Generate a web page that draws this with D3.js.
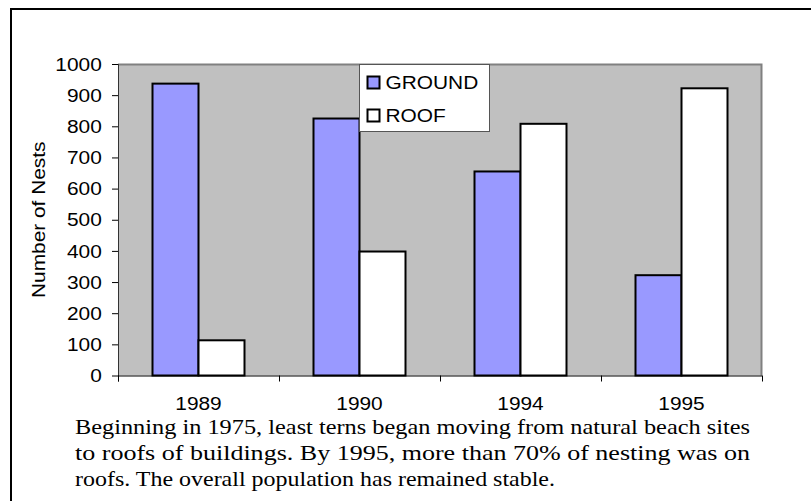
<!DOCTYPE html>
<html>
<head>
<meta charset="utf-8">
<script src="https://cdn.jsdelivr.net/npm/d3@7"></script>
<style>
  body { margin: 0; background: #fff; }
  svg { display: block; }
  .sans { font-family: "Liberation Sans", Arial, sans-serif; }
  .serif { font-family: "Liberation Serif", "Times New Roman", serif; }
</style>
</head>
<body>
<script>
// data
var years = ["1989", "1990", "1994", "1995"];
var series = ["GROUND", "ROOF"];
var ground = [937, 825, 655, 322];
var roof = [113, 398, 808, 922];
var yTicks = [0, 100, 200, 300, 400, 500, 600, 700, 800, 900, 1000];
var yTitle = "Number of Nests";
var caption = [
  "Beginning in 1975, least terns began moving from natural beach sites",
  "to roofs of buildings.  By 1995, more than 70% of nesting was on",
  "roofs. The overall population has remained stable."
];

var W = 811, H = 501;
var plot = {left: 118, right: 762, top: 64, bottom: 375.5};
var colors = {GROUND: "#9999ff", ROOF: "#ffffff"};
var stretch = "scale(1.16,1)";

var svg = d3.select("body").append("svg")
    .attr("width", W)
    .attr("height", H);

// outer frame (right and bottom run off the picture)
svg.append("rect")
    .attr("x", 11).attr("y", 9)
    .attr("width", 900).attr("height", 600)
    .attr("fill", "none")
    .attr("stroke", "#000")
    .attr("stroke-width", 2);

// scales
var x = d3.scaleBand().domain(years).range([plot.left, plot.right]).padding(0);
var xs = d3.scaleBand().domain(series).range([0, x.bandwidth()])
    .paddingInner(0).paddingOuter(0.75);
var y = d3.scaleLinear().domain([0, 1000]).range([plot.bottom, plot.top]);

// plot area
svg.append("rect")
    .attr("x", plot.left).attr("y", plot.top)
    .attr("width", plot.right - plot.left)
    .attr("height", plot.bottom - plot.top)
    .attr("fill", "#c0c0c0");
svg.append("path")
    .attr("d", "M" + plot.left + "," + (plot.top + 0.5) + "H" + (plot.right - 0.5) + "V" + plot.bottom)
    .attr("fill", "none")
    .attr("stroke", "#808080")
    .attr("stroke-width", 2);

// bars
var rows = years.map(function(yr, i) {
  return {year: yr, values: [{key: "GROUND", v: ground[i]}, {key: "ROOF", v: roof[i]}]};
});

svg.append("g").selectAll("g")
    .data(rows)
  .enter().append("g")
    .attr("transform", function(d) { return "translate(" + x(d.year) + ",0)"; })
  .selectAll("rect")
    .data(function(d) { return d.values; })
  .enter().append("rect")
    .attr("x", function(d) { return xs(d.key); })
    .attr("y", function(d) { return y(d.v); })
    .attr("width", xs.bandwidth())
    .attr("height", function(d) { return y(0) - y(d.v); })
    .attr("fill", function(d) { return colors[d.key]; })
    .attr("stroke", "#000")
    .attr("stroke-width", 2);

// y axis
var yAxis = svg.append("g")
    .attr("transform", "translate(" + plot.left + ",0)")
    .call(d3.axisLeft(y).tickValues(yTicks).tickFormat(d3.format("d"))
      .tickSize(6).tickPadding(8).tickSizeOuter(0));
yAxis.attr("font-family", null).attr("font-size", null);
yAxis.select(".domain").attr("stroke", "#333").attr("d", "M0.5," + plot.top + "V" + (plot.bottom + 6));
yAxis.selectAll(".tick line").attr("stroke", "#000");
yAxis.selectAll("text")
    .attr("class", "sans")
    .style("font-size", "18px")
    .attr("fill", "#000")
    .attr("dy", "0.34em")
    .attr("transform", stretch);

// x axis: labels at band centres, ticks at band edges
var xAxis = svg.append("g")
    .attr("transform", "translate(0," + plot.bottom + ")")
    .call(d3.axisBottom(x).tickSize(0));
xAxis.attr("font-family", null).attr("font-size", null);
xAxis.select(".domain").attr("stroke", "#000").attr("d", "M" + plot.left + ",0.5H" + plot.right);
xAxis.selectAll("text")
    .attr("class", "sans")
    .style("font-size", "18px")
    .attr("fill", "#000")
    .attr("y", 35)
    .attr("dy", null)
    .attr("transform", stretch);

var edges = years.map(function(d) { return x(d); }).concat([x.range()[1]]);
svg.append("g").selectAll("line")
    .data(edges)
  .enter().append("line")
    .attr("x1", function(d) { return Math.round(d) + 0.5; })
    .attr("x2", function(d) { return Math.round(d) + 0.5; })
    .attr("y1", plot.bottom)
    .attr("y2", plot.bottom + 6)
    .attr("stroke", "#000");

// y title
svg.append("text")
    .attr("class", "sans")
    .attr("transform", "translate(45," + ((plot.top + plot.bottom) / 2) + ") rotate(-90) " + stretch)
    .attr("text-anchor", "middle")
    .style("font-size", "18px")
    .text(yTitle);

// legend
var legend = svg.append("g").attr("transform", "translate(359.5,64.5)");
legend.append("rect")
    .attr("width", 130).attr("height", 67)
    .attr("fill", "#fff")
    .attr("stroke", "#555");
var item = legend.selectAll(".item")
    .data(series)
  .enter().append("g")
    .attr("class", "item")
    .attr("transform", function(d, i) { return "translate(0," + (18 + i * 33) + ")"; });
item.append("rect")
    .attr("x", 8).attr("y", -6)
    .attr("width", 12).attr("height", 12)
    .attr("fill", function(d) { return colors[d]; })
    .attr("stroke", "#000")
    .attr("stroke-width", 2);
item.append("text")
    .attr("class", "sans")
    .attr("transform", "translate(26,0) " + stretch)
    .attr("dy", "0.36em")
    .style("font-size", "18px")
    .text(function(d) { return d; });

// caption (first two lines justified)
svg.append("g").selectAll("text")
    .data(caption)
  .enter().append("text")
    .attr("class", "serif")
    .attr("x", 75)
    .attr("y", function(d, i) { return 434 + i * 26; })
    .style("font-size", "21px")
    .attr("textLength", function(d, i) { return i < 2 ? 675 : 480; })
    .attr("lengthAdjust", "spacingAndGlyphs")
    .text(function(d) { return d; });
</script>
</body>
</html>
